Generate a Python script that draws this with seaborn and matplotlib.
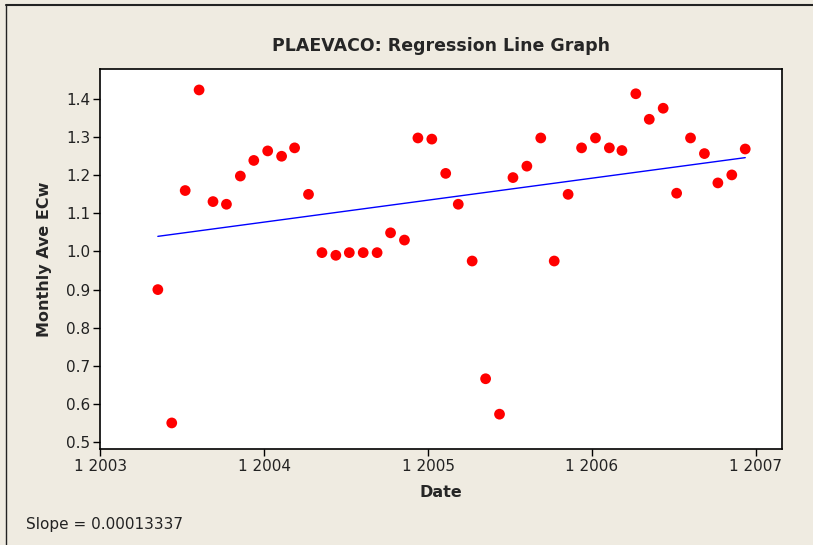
import matplotlib
matplotlib.use("Agg")
import matplotlib.pyplot as plt
import matplotlib.dates as mdates
import matplotlib.lines as mlines
import seaborn as sns
import pandas as pd
import numpy as np

# Data
months = pd.date_range("2003-05-01", periods=44, freq="MS") + pd.Timedelta(days=8)
ecw = [0.90, 0.55, 1.16, 1.424, 1.131, 1.124, 1.198, 1.239, 1.264, 1.250, 1.272, 1.150,
       0.997, 0.990, 0.997, 0.997, 0.997, 1.049, 1.030, 1.298, 1.295, 1.205,
       1.124, 0.975, 0.666, 0.573, 1.194, 1.224, 1.298, 0.975, 1.150, 1.272,
       1.298, 1.272, 1.265, 1.414, 1.347, 1.376, 1.153, 1.298, 1.257, 1.180,
       1.201, 1.269]
year_ticks = ["2003-01-01", "2004-01-01", "2005-01-01", "2006-01-01", "2007-01-01"]
title = "PLAEVACO: Regression Line Graph"
slope_text = "Slope = 0.00013337"

df = pd.DataFrame({"Date": mdates.date2num(months.to_pydatetime()), "ECw": ecw})

sns.set_theme(style="white")
plt.rcParams["font.family"] = ["DejaVu Sans"]

bg = "#EFEBE1"
fig = plt.figure(figsize=(8.13, 5.45), dpi=100, facecolor=bg)
ax = fig.add_axes([100 / 813, 1 - 449 / 545, (782 - 100) / 813, (449 - 69) / 545])
ax.set_facecolor("white")

sns.regplot(data=df, x="Date", y="ECw", ax=ax, ci=None, truncate=True,
            scatter_kws=dict(color="#FF0000", s=60, edgecolor="none", alpha=1, zorder=3),
            line_kws=dict(color="#0000FF", lw=1.0, zorder=2))

tick_nums = mdates.date2num(pd.to_datetime(year_ticks).to_pydatetime())
ax.set_xticks(tick_nums)
ax.set_xticklabels([f"1 {pd.Timestamp(t).year}" for t in year_ticks])
ax.set_xlim(mdates.date2num(pd.Timestamp("2002-12-31")), mdates.date2num(pd.Timestamp("2007-03-01")))
ax.set_ylim(0.4816, 1.479)
ax.set_yticks(np.round(np.arange(0.5, 1.41, 0.1), 1))
ax.set_yticklabels([f"{v:.1f}" for v in np.arange(0.5, 1.41, 0.1)])

ax.tick_params(axis="both", which="both", direction="out", length=5, width=1,
               color="black", labelsize=11, labelcolor="#222222", pad=2,
               bottom=True, left=True)
for s in ax.spines.values():
    s.set_color("black")
    s.set_linewidth(1.2)

ax.set_xlabel("Date", fontsize=11.5, fontweight="bold", labelpad=8)
ax.set_ylabel("Monthly Ave ECw", fontsize=11.5, fontweight="bold", labelpad=10)
ax.set_title(title, fontsize=12.5, fontweight="bold", pad=13)

fig.text(26 / 813, 1 - 524 / 545, slope_text, fontsize=11, color="#222222", va="center", ha="left")

# frame lines of the original figure
fig.add_artist(mlines.Line2D([6 / 813, 1], [1 - 5 / 545] * 2, color="#222222", lw=1.5, transform=fig.transFigure))
fig.add_artist(mlines.Line2D([6 / 813] * 2, [0, 1 - 5 / 545], color="#222222", lw=1.0, transform=fig.transFigure))

fig.savefig("out.png", dpi=100, facecolor=bg)
